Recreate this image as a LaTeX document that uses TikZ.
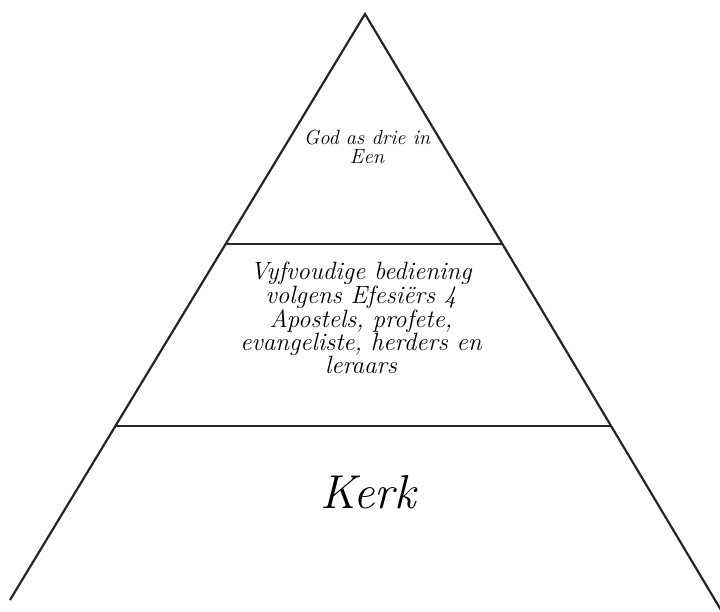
\documentclass[tikz,border=0pt]{standalone}
\usetikzlibrary{calc}
\begin{document}
\begin{tikzpicture}[x=1pt,y=-1pt,
  edge/.style={line width=2.2pt,draw=black!85},
  lbl/.style={align=center,text=black,inner sep=0pt}]
\useasboundingbox (0,0) rectangle (720,612);
\coordinate (apex) at (365,14);
\coordinate (bl) at (10,600);
\coordinate (br) at (721,610);
\coordinate (l1) at ($(apex)!0.3925!(bl)$);
\coordinate (r1) at ($(apex)!0.3859!(br)$);
\coordinate (l2) at ($(apex)!0.703!(bl)$);
\coordinate (r2) at ($(apex)!0.6913!(br)$);
\draw[edge,line join=miter] (bl) -- (apex) -- (br);
\draw[edge,line width=1.8pt] (l1) -- (r1);
\draw[edge,line width=1.8pt] (l2) -- (r2);
\node[lbl,font=\itshape\fontsize{20.5}{19}\selectfont] (top) at (367,147) {God as drie in\\Een};
\node[lbl,font=\itshape\fontsize{25}{22}\selectfont] (mid) at (361,318) {Vyfvoudige bediening\\volgens Efesiërs 4\\Apostels, profete,\\evangeliste, herders en\\leraars};
\node[lbl,font=\itshape\fontsize{47.5}{50}\selectfont] (kerk) at (368,492) {Kerk};
\end{tikzpicture}
\end{document}
